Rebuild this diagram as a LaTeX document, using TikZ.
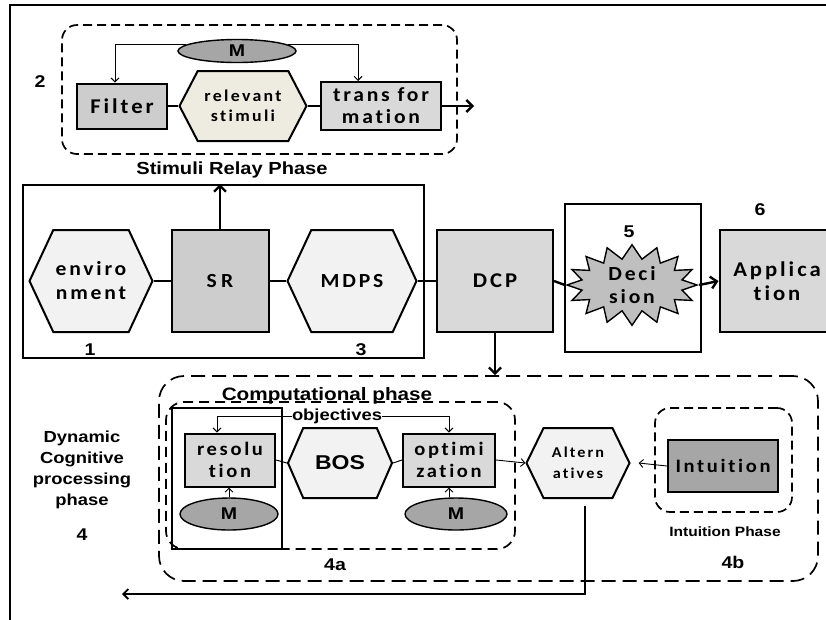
\documentclass[tikz,border=0pt]{standalone}
\usepackage{fontspec}
\newfontfamily\arb[FakeStretch=1.15]{Liberation Sans}
\newfontfamily\calb[FakeStretch=1.08,LetterSpace=14,Ligatures={CommonOff,ContextualOff}]{Carlito}
\newfontfamily\calw[FakeStretch=1.08,LetterSpace=22,Ligatures={CommonOff,ContextualOff}]{Carlito}
\usetikzlibrary{shapes.geometric,shapes.symbols,arrows.meta}
\newcommand\fsz[2]{\fontsize{#1}{#2}\selectfont}
\definecolor{hexfill}{HTML}{F2F2F2}
\definecolor{boxfill}{HTML}{D9D9D9}
\definecolor{srfill}{HTML}{CDCDCD}
\definecolor{mfill}{HTML}{A6A6A6}
\definecolor{relfill}{HTML}{EEECE1}
\definecolor{burstfill}{HTML}{BFBFBF}
\tikzset{
  every node/.style={inner sep=0pt, align=center},
  boxn/.style={draw, line width=2pt, fill=boxfill},
  hexa/.style={signal, signal to=east and west, draw, line width=2pt, fill=hexfill, signal pointer angle=130},
  mell/.style={ellipse, draw, line width=1.4pt, fill=mfill, font=\arb\bfseries\fsz{17}{20}},
  caltxt/.style={font=\calb\bfseries\fsz{20}{24}},
  arlab/.style={font=\arb\bfseries\fsz{17}{20}},
  conn/.style={line width=2.4pt},
  tconn/.style={line width=1pt},
  tarrow/.style={line width=0.9pt, -{Straight Barb[length=4pt,width=8pt]}},
  barrow/.style={line width=2.4pt, -{Straight Barb[length=6pt,width=12pt,line width=2.4pt]}},
  dbox/.style={draw, line width=1.7pt, dash pattern=on 9pt off 5pt, rounded corners=15pt},
}
\begin{document}
\begin{tikzpicture}[x=1pt,y=-1pt]
\useasboundingbox (0,0) rectangle (826,619);
\fill[white] (0,0) rectangle (826,619);
% outer frame
\draw[line width=2pt] (830,5) -- (10,5) -- (10,625);

% ---------- Stimuli relay phase ----------
\node[dbox, minimum width=395pt, minimum height=129pt] (srp) at (259.5,89.5) {};
\node[arlab] (n2) at (40,82) {2};
\node[mell, minimum width=118pt, minimum height=23pt] (m1) at (237,51) {M};
\node[boxn, fill=srfill, minimum width=90pt, minimum height=45pt, font=\calb\bfseries\fsz{21}{24}] (filter) at (122,106) {Filter};
\node[hexa, fill=relfill, signal pointer angle=125, minimum width=127pt, minimum height=70pt, font=\calb\bfseries\fsz{16.5}{20}] (rel) at (243,106) {relevant\\stimuli};
\node[boxn, minimum width=120pt, minimum height=48pt, font=\calb\bfseries\fsz{20}{22}] (trans) at (381,106) {trans for\\mation};
\coordinate (transout) at (474,106);
\node[font=\arb\bfseries\fsz{17.5}{20}] (srplab) at (232,170) {Stimuli Relay Phase};

\draw[tconn, line width=2pt] (filter.east) -- (rel.west);
\draw[tconn, line width=2pt] (rel.east) -- (trans.west);
\draw[barrow, line width=2pt] (trans.east) -- (transout);
\draw[tarrow] (m1.173) -| ([xshift=-7pt]filter.north);
\draw[tarrow] (m1.7) -| ([xshift=-23pt]trans.north);

% ---------- Main row ----------
\node[draw, line width=2pt, minimum width=401pt, minimum height=173pt] (mainbox) at (223.5,271.5) {};
\node[hexa, minimum width=123pt, minimum height=102pt, caltxt] (env) at (91,281) {enviro\\nment};
\node[boxn, fill=srfill, minimum width=97pt, minimum height=102pt, font=\calw\bfseries\fsz{20}{24}] (sr) at (220,281) {SR};
\node[hexa, minimum width=129pt, minimum height=102pt, caltxt] (mdps) at (352,281) {MDPS};
\node[boxn, minimum width=116pt, minimum height=102pt, font=\calb\bfseries\fsz{21}{24}] (dcp) at (495,281) {DCP};
\node[draw, line width=2pt, minimum width=136pt, minimum height=148pt] (decbox) at (633,278) {};
\node[starburst, starburst points=16, starburst point height=14pt, random starburst=0, draw, line width=1.4pt, fill=burstfill, minimum width=130pt, minimum height=73pt, font=\calb\bfseries\fsz{20}{23}] (dec) at (632,285) {Deci\\sion};
\node[boxn, minimum width=115pt, minimum height=102pt, font=\calb\bfseries\fsz{21}{24}] (app) at (777,281) {Applica\\tion};
\node[arlab] (n1) at (90,350) {1};
\node[arlab] (n3) at (361,350) {3};
\node[arlab] (n5) at (629,232) {5};
\node[arlab] (n6) at (760,210) {6};

\draw[conn] (env.east) -- (sr.west);
\draw[conn] (sr.east) -- (mdps.west);
\draw[conn] (mdps.east) -- (dcp.west);
\draw[conn] (dcp.east) -- (dec.west);
\draw[barrow] (dec.east) -- (app.west);
\draw[barrow] (sr.north) -- (sr.north |- mainbox.north);

% ---------- Dynamic cognitive processing phase ----------
\node[draw, line width=1.7pt, dash pattern=on 14pt off 7pt, rounded corners=25pt, minimum width=659pt, minimum height=205pt] (dyn) at (488.5,478.5) {};
\draw[barrow] (dcp.south) -- (dcp.south |- dyn.north);
\node[font=\arb\bfseries\fsz{16}{21}] (dyntxt) at (82,470) {Dynamic\\Cognitive\\processing\\phase};
\node[arlab] (n4) at (82,535) {4};

\node[dbox, dash pattern=on 10pt off 6pt, rounded corners=18pt, minimum width=349pt, minimum height=147pt] (comp) at (340.5,475.5) {};
\node[font=\arb\bfseries\fsz{18}{20}] (complab) at (327,396) {Computational phase};
\node[draw, line width=2pt, minimum width=110pt, minimum height=141pt] (resframe) at (227,478.5) {};
\node[font=\arb\bfseries\fsz{16}{18}] (obj) at (337,416) {objectives};
\node[boxn, minimum width=90pt, minimum height=53pt, font=\calb\bfseries\fsz{19}{22}] (res) at (230,460) {resolu\\tion};
\node[mell, minimum width=98pt, minimum height=32pt] (m2) at (229,514) {M};
\node[hexa, signal pointer angle=133, minimum width=104pt, minimum height=70pt, font=\arb\bfseries\fsz{20}{22}] (bos) at (340,463) {BOS};
\node[boxn, minimum width=92pt, minimum height=53pt, font=\calb\bfseries\fsz{19}{22}] (opt) at (449,460) {optimi\\zation};
\node[mell, minimum width=102pt, minimum height=32pt] (m3) at (456,514) {M};
\node[hexa, signal pointer angle=128, minimum width=103pt, minimum height=70pt, font=\calb\bfseries\fsz{15}{21}] (alt) at (578,463) {Altern\\atives};
\node[arlab] (n4a) at (335,565) {4a};

\node[dbox, minimum width=137pt, minimum height=104pt] (intph) at (723.5,460) {};
\node[boxn, fill=mfill, minimum width=110pt, minimum height=52pt, font=\calb\bfseries\fsz{19}{22}] (intu) at (723,466) {Intuition};
\node[font=\arb\bfseries\fsz{13.5}{15}] (intlab) at (725,532) {Intuition Phase};
\node[arlab] (n4b) at (733,562) {4b};

\draw[tarrow] (obj.west) -| ([xshift=-13pt]res.north);
\draw[tarrow] (obj.east) -| (opt.north);
\draw[tarrow] (m2.north) -- (m2.north |- res.south);
\draw[tarrow] (opt.south |- m3.north) -- (opt.south);
\draw[tconn] (res.east) -- (bos.west);
\draw[tconn] (bos.east) -- (opt.west);
\draw[tarrow] (opt.east) -- (alt.west);
\draw[tarrow] (intu.west) -- ([xshift=8pt]alt.east);

\coordinate (backend) at (122,594);
\draw[line width=1.8pt, -{Straight Barb[length=5pt,width=10pt]}] ([xshift=7pt,yshift=-7pt]alt.south) |- (backend);
\end{tikzpicture}
\end{document}
